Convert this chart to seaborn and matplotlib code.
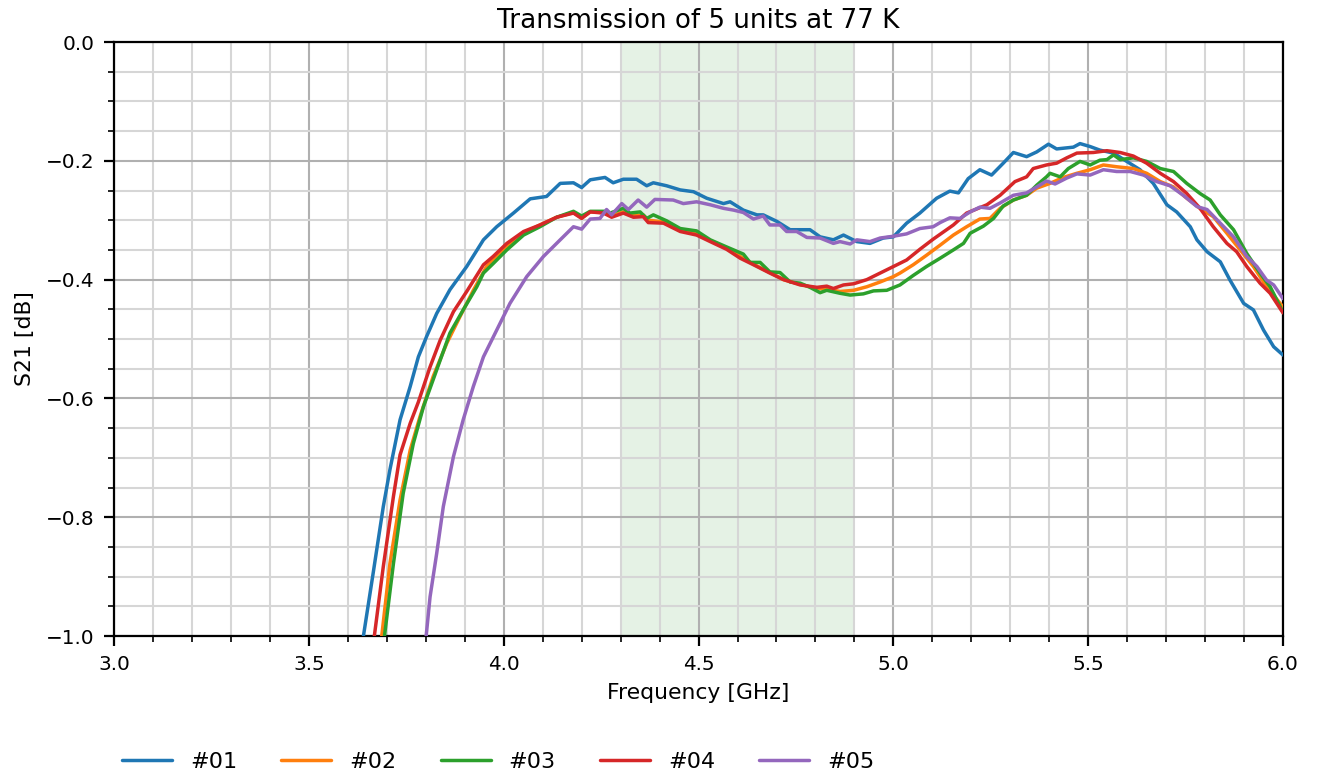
import numpy as np
import pandas as pd
import matplotlib
matplotlib.use("Agg")
import matplotlib.pyplot as plt
from matplotlib.ticker import MultipleLocator, FormatStrFormatter
import seaborn as sns

# ---------------- data ----------------
units = ["#01", "#02", "#03", "#04", "#05"]

f01 = [3.640, 3.665, 3.691, 3.708, 3.734, 3.760, 3.781, 3.802, 3.828, 3.862, 3.905, 3.948, 3.982,
       4.025, 4.068, 4.110, 4.145, 4.179, 4.200, 4.222, 4.260, 4.281, 4.307, 4.341, 4.367, 4.384,
       4.418, 4.453, 4.487, 4.521, 4.564, 4.581, 4.615, 4.650, 4.666, 4.701, 4.735, 4.786, 4.812,
       4.846, 4.872, 4.906, 4.940, 4.974, 5.000, 5.034, 5.068, 5.111, 5.145, 5.167, 5.192, 5.222,
       5.252, 5.282, 5.308, 5.342, 5.368, 5.398, 5.419, 5.462, 5.479, 5.505, 5.530, 5.565, 5.599,
       5.633, 5.667, 5.702, 5.727, 5.762, 5.779, 5.805, 5.839, 5.864, 5.899, 5.924, 5.950, 5.976, 6.000]
s01 = [-1.0, -0.894, -0.782, -0.72, -0.636, -0.580, -0.530, -0.496, -0.457, -0.417, -0.378, -0.333, -0.311,
       -0.288, -0.264, -0.260, -0.238, -0.237, -0.245, -0.232, -0.228, -0.237, -0.231, -0.231, -0.242, -0.237,
       -0.242, -0.249, -0.252, -0.263, -0.272, -0.269, -0.283, -0.291, -0.291, -0.302, -0.316, -0.316, -0.328,
       -0.333, -0.325, -0.336, -0.339, -0.330, -0.328, -0.305, -0.288, -0.263, -0.251, -0.254, -0.230, -0.215,
       -0.224, -0.204, -0.186, -0.193, -0.185, -0.172, -0.180, -0.177, -0.171, -0.176, -0.182, -0.187, -0.201,
       -0.215, -0.238, -0.274, -0.286, -0.311, -0.333, -0.353, -0.370, -0.401, -0.440, -0.451, -0.485, -0.513, -0.527]

f02 = [3.687, 3.708, 3.734, 3.760, 3.785, 3.819, 3.854, 3.888, 3.922, 3.956, 3.999, 4.051, 4.093,
       4.136, 4.179, 4.200, 4.222, 4.256, 4.277, 4.307, 4.333, 4.358, 4.371, 4.410, 4.453, 4.495,
       4.530, 4.572, 4.607, 4.641, 4.683, 4.718, 4.761, 4.804, 4.829, 4.863, 4.898, 4.932, 4.966,
       5.000, 5.017, 5.051, 5.085, 5.120, 5.154, 5.188, 5.222, 5.248, 5.274, 5.308, 5.342, 5.368,
       5.402, 5.436, 5.471, 5.505, 5.539, 5.573, 5.616, 5.650, 5.685, 5.719, 5.753, 5.787, 5.821,
       5.856, 5.890, 5.924, 5.958, 6.000]
s02 = [-1.0, -0.878, -0.771, -0.687, -0.631, -0.563, -0.507, -0.462, -0.418, -0.378, -0.350, -0.322, -0.308,
       -0.295, -0.287, -0.296, -0.286, -0.287, -0.293, -0.286, -0.292, -0.291, -0.300, -0.303, -0.316, -0.322,
       -0.334, -0.347, -0.361, -0.374, -0.388, -0.400, -0.408, -0.415, -0.416, -0.420, -0.418, -0.412, -0.404,
       -0.395, -0.389, -0.375, -0.359, -0.342, -0.325, -0.311, -0.298, -0.297, -0.280, -0.266, -0.258, -0.246,
       -0.238, -0.228, -0.221, -0.215, -0.207, -0.210, -0.213, -0.221, -0.235, -0.244, -0.263, -0.280, -0.294,
       -0.322, -0.350, -0.378, -0.412, -0.446]

f03 = [3.694, 3.717, 3.742, 3.768, 3.794, 3.828, 3.862, 3.896, 3.931, 3.948, 3.973, 4.008, 4.051,
       4.093, 4.136, 4.179, 4.200, 4.222, 4.264, 4.273, 4.307, 4.324, 4.350, 4.367, 4.384, 4.418,
       4.453, 4.495, 4.530, 4.572, 4.615, 4.632, 4.658, 4.683, 4.709, 4.735, 4.761, 4.786, 4.812,
       4.829, 4.863, 4.889, 4.923, 4.949, 4.983, 5.017, 5.051, 5.085, 5.120, 5.154, 5.180, 5.197,
       5.231, 5.257, 5.282, 5.308, 5.342, 5.368, 5.393, 5.402, 5.428, 5.449, 5.479, 5.505, 5.530,
       5.548, 5.565, 5.582, 5.616, 5.650, 5.685, 5.719, 5.753, 5.787, 5.813, 5.839, 5.873, 5.907,
       5.941, 5.967, 6.000]
s03 = [-1.0, -0.878, -0.760, -0.676, -0.614, -0.552, -0.490, -0.451, -0.412, -0.389, -0.373, -0.350, -0.325,
       -0.311, -0.295, -0.285, -0.293, -0.285, -0.285, -0.288, -0.280, -0.288, -0.286, -0.297, -0.291, -0.301,
       -0.314, -0.318, -0.333, -0.345, -0.357, -0.371, -0.371, -0.387, -0.388, -0.404, -0.406, -0.413, -0.422,
       -0.418, -0.423, -0.426, -0.424, -0.419, -0.418, -0.409, -0.393, -0.378, -0.364, -0.350, -0.339, -0.322,
       -0.310, -0.297, -0.276, -0.266, -0.258, -0.241, -0.227, -0.221, -0.227, -0.213, -0.201, -0.207, -0.199,
       -0.198, -0.190, -0.198, -0.195, -0.201, -0.213, -0.218, -0.238, -0.255, -0.266, -0.291, -0.316, -0.356,
       -0.389, -0.412, -0.455]

f04 = [3.668, 3.691, 3.717, 3.734, 3.760, 3.781, 3.811, 3.837, 3.871, 3.905, 3.948, 3.973, 4.008,
       4.051, 4.093, 4.136, 4.179, 4.200, 4.222, 4.256, 4.277, 4.307, 4.333, 4.358, 4.371, 4.410,
       4.453, 4.495, 4.530, 4.572, 4.607, 4.641, 4.683, 4.718, 4.761, 4.804, 4.829, 4.846, 4.872,
       4.898, 4.932, 4.966, 5.000, 5.034, 5.068, 5.102, 5.154, 5.188, 5.240, 5.274, 5.312, 5.342,
       5.359, 5.393, 5.419, 5.445, 5.471, 5.513, 5.548, 5.582, 5.616, 5.650, 5.685, 5.719, 5.753,
       5.787, 5.821, 5.856, 5.881, 5.907, 5.941, 5.967, 6.000]
s04 = [-1.0, -0.883, -0.765, -0.695, -0.642, -0.606, -0.547, -0.502, -0.454, -0.420, -0.375, -0.361, -0.339,
       -0.319, -0.308, -0.295, -0.288, -0.297, -0.286, -0.288, -0.295, -0.288, -0.295, -0.294, -0.304, -0.305,
       -0.319, -0.325, -0.336, -0.349, -0.364, -0.375, -0.389, -0.400, -0.409, -0.413, -0.411, -0.415, -0.409,
       -0.407, -0.400, -0.389, -0.378, -0.367, -0.349, -0.332, -0.308, -0.288, -0.274, -0.258, -0.235, -0.227,
       -0.213, -0.207, -0.204, -0.195, -0.187, -0.186, -0.183, -0.186, -0.192, -0.204, -0.221, -0.235, -0.255,
       -0.280, -0.311, -0.339, -0.353, -0.378, -0.406, -0.423, -0.456]

f05 = [3.801, 3.811, 3.828, 3.845, 3.871, 3.896, 3.922, 3.948, 3.982, 4.016, 4.059, 4.102, 4.145,
       4.179, 4.200, 4.222, 4.247, 4.264, 4.277, 4.303, 4.320, 4.345, 4.367, 4.388, 4.435, 4.461,
       4.495, 4.530, 4.564, 4.590, 4.615, 4.641, 4.666, 4.683, 4.709, 4.726, 4.752, 4.778, 4.812,
       4.846, 4.863, 4.889, 4.906, 4.940, 4.966, 5.000, 5.034, 5.068, 5.102, 5.120, 5.145, 5.171,
       5.197, 5.222, 5.248, 5.274, 5.308, 5.342, 5.368, 5.393, 5.415, 5.445, 5.471, 5.505, 5.539,
       5.573, 5.608, 5.642, 5.676, 5.710, 5.744, 5.779, 5.805, 5.839, 5.873, 5.907, 5.933, 5.958,
       5.976, 6.000]
s05 = [-1.0, -0.934, -0.861, -0.782, -0.698, -0.636, -0.580, -0.530, -0.485, -0.440, -0.395, -0.361, -0.333,
       -0.311, -0.315, -0.298, -0.297, -0.282, -0.291, -0.272, -0.282, -0.266, -0.278, -0.265, -0.266, -0.272,
       -0.269, -0.274, -0.280, -0.283, -0.287, -0.298, -0.293, -0.308, -0.308, -0.319, -0.319, -0.329, -0.330,
       -0.339, -0.336, -0.340, -0.333, -0.336, -0.330, -0.327, -0.323, -0.314, -0.311, -0.304, -0.296, -0.297,
       -0.286, -0.278, -0.280, -0.271, -0.258, -0.254, -0.244, -0.234, -0.239, -0.229, -0.222, -0.224, -0.215,
       -0.218, -0.218, -0.224, -0.235, -0.242, -0.258, -0.277, -0.282, -0.305, -0.328, -0.361, -0.378, -0.401,
       -0.409, -0.432]

band = (4.3, 4.9)

freqs = [f01, f02, f03, f04, f05]
vals = [s01, s02, s03, s04, s05]
frames = [pd.DataFrame({"freq": f, "s21": s, "unit": u}) for f, s, u in zip(freqs, vals, units)]
df = pd.concat(frames, ignore_index=True)

# ---------------- style ----------------
sns.set_theme(style="ticks")
plt.rcParams.update({
    "font.family": ["DejaVu Sans"],
    "text.color": "black",
    "axes.labelcolor": "black",
    "axes.edgecolor": "black",
    "axes.linewidth": 0.8,
    "xtick.color": "black",
    "ytick.color": "black",
    "xtick.labelcolor": "black",
    "ytick.labelcolor": "black",
    "xtick.major.size": 3.5,
    "ytick.major.size": 3.5,
    "xtick.minor.size": 2.0,
    "ytick.minor.size": 2.0,
    "xtick.major.width": 0.8,
    "ytick.major.width": 0.8,
    "xtick.minor.width": 0.6,
    "ytick.minor.width": 0.6,
})

fig = plt.figure(figsize=(6.585, 3.89), dpi=200)
ax = fig.add_axes([0.0866, 0.1825, 0.8876, 0.7635])

palette = sns.color_palette("tab10", 5)
ax.axvspan(band[0], band[1], color="green", alpha=0.1, lw=0, zorder=0)

sns.lineplot(data=df, x="freq", y="s21", hue="unit", palette=palette,
             estimator=None, sort=True, lw=1.25, ax=ax, zorder=3)

ax.set_xlim(3.0, 6.0)
ax.set_ylim(-1.0, 0.0)
ax.xaxis.set_major_locator(MultipleLocator(0.5))
ax.xaxis.set_minor_locator(MultipleLocator(0.1))
ax.yaxis.set_major_locator(MultipleLocator(0.2))
ax.yaxis.set_minor_locator(MultipleLocator(0.05))
ax.xaxis.set_major_formatter(FormatStrFormatter("%.1f"))
ax.yaxis.set_major_formatter(plt.FuncFormatter(lambda v, p: f"{v:.1f}".replace("-", "\u2212")))

ax.set_axisbelow(True)
ax.grid(which="major", color="#b0b0b0", lw=0.75)
ax.grid(which="minor", color="#d6d6d6", lw=0.75)
ax.tick_params(which="both", direction="out", labelsize=7.2, colors="black")
for sp in ax.spines.values():
    sp.set_visible(True)
    sp.set_color("black")
    sp.set_linewidth(0.8)

ax.set_xlabel("Frequency [GHz]", fontsize=7.9, labelpad=3, color="black")
ax.set_ylabel("S21 [dB]", fontsize=7.9, labelpad=4, color="black")
ax.set_title("Transmission of 5 units at 77 K", fontsize=9.4, pad=5, color="black")

handles, labels = ax.get_legend_handles_labels()
ax.get_legend().remove()
for h in handles:
    h.set_linewidth(1.25)
leg = fig.legend(handles, labels, loc="center left", bbox_to_anchor=(0.0775, 0.021),
                 ncol=5, frameon=False, fontsize=8, handlelength=2.25,
                 handletextpad=0.8, columnspacing=2.0)
for t in leg.get_texts():
    t.set_color("black")

fig.savefig("out.png", dpi=200)
